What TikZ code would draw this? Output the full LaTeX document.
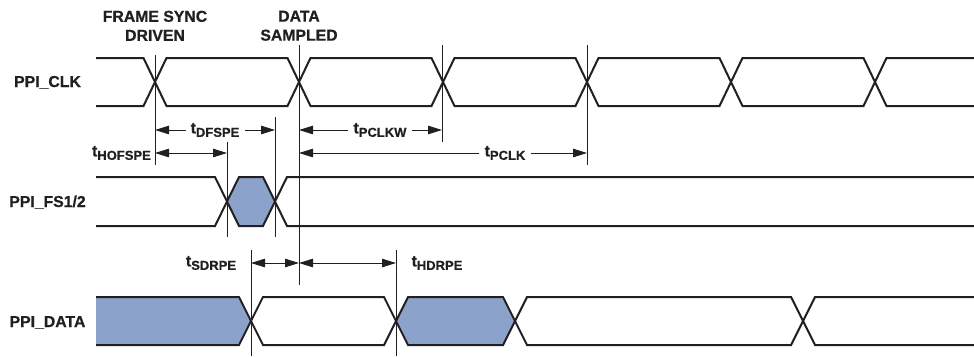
\documentclass[tikz,border=0pt]{standalone}
\usepackage{fontspec}
\setmainfont{Liberation Sans}[BoldFeatures={FakeBold=0.8}]
\usetikzlibrary{arrows.meta}
\definecolor{sig}{HTML}{231F20}
\definecolor{busfill}{HTML}{8BA2CA}
\newcommand\tsubscr[1]{t\raisebox{-3.5pt}{\fontsize{13}{13}\selectfont #1}}
\begin{document}
\begin{tikzpicture}[x=1pt,y=-1pt,
  sigline/.style={draw=sig, line width=2pt, line join=miter},
  busarea/.style={fill=busfill, draw=none},
  guide/.style={draw=sig, line width=1pt},
  dimone/.style={draw=sig, line width=1pt, -{Triangle[length=14pt,width=8.5pt]}},
  dimboth/.style={draw=sig, line width=1pt, {Triangle[length=14pt,width=8.5pt]}-{Triangle[length=14pt,width=8.5pt]}},
  lbl/.style={font=\bfseries\fontsize{15.8}{19}\selectfont, inner sep=0pt, text=sig},
  tlbl/.style={font=\bfseries\fontsize{15.8}{16}\selectfont, inner ysep=0pt, inner xsep=5pt, text=sig}]
\useasboundingbox (0,0) rectangle (974,356);

% ---------- signal names ----------
\node[lbl, anchor=base] (nclk) at (47.5,87) {PPI\_CLK};
\node[lbl, anchor=base] (nfs) at (47.5,207) {PPI\_FS1/2};
\node[lbl, anchor=base] (ndata) at (47.5,327) {PPI\_DATA};

% ---------- headers ----------
\node[lbl, align=center, anchor=south] (hfs) at (155,41) {FRAME SYNC\\DRIVEN};
\node[lbl, align=center, anchor=south] (hds) at (299,41) {DATA\\SAMPLED};

% ---------- PPI_CLK ----------
\draw[sigline] (96,58) -- (143.5,58) -- (166.5,106) -- (287.5,106) -- (310.5,58) -- (431.5,58) -- (454.5,106) -- (575.5,106) -- (598.5,58) -- (719.5,58) -- (742.5,106) -- (863.5,106) -- (886.5,58) -- (974,58);
\draw[sigline] (96,106) -- (143.5,106) -- (166.5,58) -- (287.5,58) -- (310.5,106) -- (431.5,106) -- (454.5,58) -- (575.5,58) -- (598.5,106) -- (719.5,106) -- (742.5,58) -- (863.5,58) -- (886.5,106) -- (974,106);

% ---------- PPI_FS1/2 ----------
\path[busarea] (227,201.5) -- (239,177) -- (263,177) -- (275,201.5) -- (263,226) -- (239,226) -- cycle;
\draw[sigline] (96,177) -- (215,177) -- (239,226) -- (263,226) -- (287,177) -- (974,177);
\draw[sigline] (96,226) -- (215,226) -- (239,177) -- (263,177) -- (287,226) -- (974,226);

% ---------- PPI_DATA ----------
\path[busarea] (96,297) -- (239,297) -- (251,321) -- (239,345) -- (96,345) -- cycle;
\path[busarea] (396,321) -- (408,297) -- (503,297) -- (515,321) -- (503,345) -- (408,345) -- cycle;
\draw[sigline] (96,297) -- (239,297) -- (263,345) -- (384,345) -- (408,297) -- (503,297) -- (527,345) -- (791,345) -- (815,297) -- (974,297);
\draw[sigline] (96,345) -- (239,345) -- (263,297) -- (384,297) -- (408,345) -- (503,345) -- (527,297) -- (791,297) -- (815,345) -- (974,345);

% ---------- guide lines ----------
\coordinate (g1t) at (155,55);  \coordinate (g1b) at (155,165);
\coordinate (g2t) at (299,45);  \coordinate (g2b) at (299,285);
\coordinate (g3t) at (442,45);  \coordinate (g3b) at (442,142);
\coordinate (g4t) at (587,45);  \coordinate (g4b) at (587,165);
\coordinate (g5t) at (227,142); \coordinate (g5b) at (227,237);
\coordinate (g6t) at (275,117); \coordinate (g6b) at (275,237);
\coordinate (g7t) at (251,250); \coordinate (g7b) at (251,356);
\coordinate (g8t) at (396,250); \coordinate (g8b) at (396,356);
\foreach \g in {1,...,8} {\draw[guide] (g\g t) -- (g\g b);}

% ---------- timing labels ----------
\node[tlbl] (tdfspe) at (215,130) {\tsubscr{DFSPE}};
\node[tlbl, anchor=east, inner xsep=0pt] (thofspe) at (151,153) {\tsubscr{HOFSPE}};
\node[tlbl] (tpclkw) at (380,130) {\tsubscr{PCLKW}};
\node[tlbl] (tpclk) at (505,153) {\tsubscr{PCLK}};
\node[tlbl] (tsdrpe) at (211,263) {\tsubscr{SDRPE}};
\node[tlbl] (thdrpe) at (437,263) {\tsubscr{HDRPE}};

% ---------- dimension arrows ----------
\coordinate (a1) at (155,130); \coordinate (a2) at (275,130);
\draw[dimone] (tdfspe.west) -- (a1);
\draw[dimone] (tdfspe.east) -- (a2);
\coordinate (b1) at (155,153); \coordinate (b2) at (227,153);
\draw[dimboth] (b1) -- (b2);
\coordinate (c1) at (299,130); \coordinate (c2) at (442,130);
\draw[dimone] (tpclkw.west) -- (c1);
\draw[dimone] (tpclkw.east) -- (c2);
\coordinate (e1) at (299,153); \coordinate (e2) at (587,153);
\draw[dimone] (tpclk.west) -- (e1);
\draw[dimone] (tpclk.east) -- (e2);
\coordinate (f1) at (251,263); \coordinate (f2) at (299,263); \coordinate (f3) at (396,263);
\draw[dimboth] (f1) -- (f2);
\draw[dimboth] (f2) -- (f3);
\end{tikzpicture}
\end{document}
